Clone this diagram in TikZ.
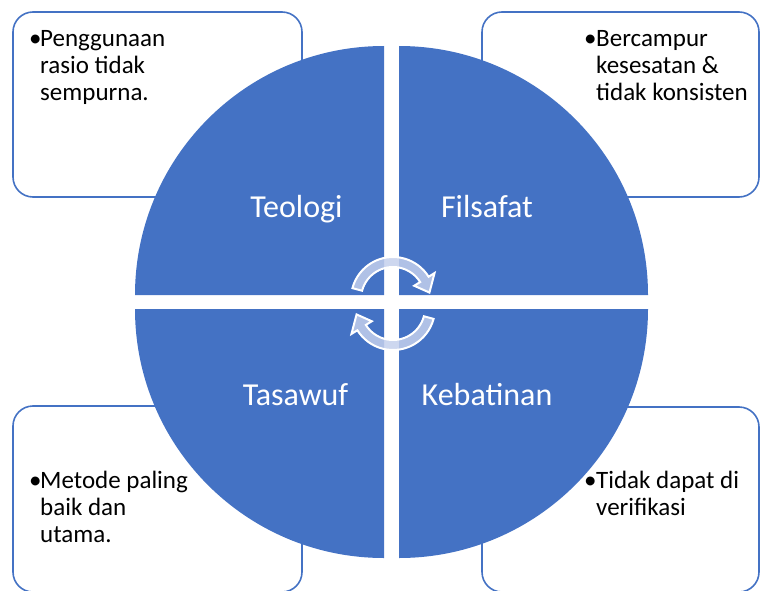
\documentclass[tikz,border=0pt]{standalone}
\usepackage{fontspec}
\setmainfont{Carlito}
\definecolor{accent}{RGB}{68,114,196}
\definecolor{arrowfill}{RGB}{196,208,236}
\begin{document}
\begin{tikzpicture}[x=1pt,y=-1pt,
  infobox/.style={draw=accent,line width=1.6pt,fill=white,rounded corners=20pt},
  quad/.style={fill=accent,draw=none},
  quadlabel/.style={text=white,font=\fontsize{32}{38}\selectfont,anchor=base,inner sep=0pt},
  bullet/.style={font=\fontsize{25}{27}\selectfont,anchor=base west,inner sep=0pt},
  boxtext/.style={font=\fontsize{25}{27}\selectfont,anchor=base west,inner sep=0pt},
  cycarrow/.style={fill=arrowfill,fill opacity=0.85,draw=white,line width=2pt,line join=miter}]
\useasboundingbox (0,0) rectangle (760,591);
% corner boxes
\draw[infobox] (13,12) rectangle (302,197);
\draw[infobox] (482,12) rectangle (759,197);
\draw[infobox] (13,406) rectangle (302,592);
\draw[infobox] (482,407) rectangle (759,592);
% quadrants
\coordinate (ctl) at (384,295);
\coordinate (ctr) at (399,295);
\coordinate (cbl) at (384,309);
\coordinate (cbr) at (399,309);
\fill[quad] (ctl) -- ++(-249,0) arc[start angle=180,end angle=270,radius=249] -- cycle;
\fill[quad] (ctr) -- ++(0,-249) arc[start angle=270,end angle=360,radius=249] -- cycle;
\fill[quad] (cbl) -- ++(0,249) arc[start angle=90,end angle=180,radius=249] -- cycle;
\fill[quad] (cbr) -- ++(249,0) arc[start angle=0,end angle=90,radius=249] -- cycle;
% quadrant labels
\node[quadlabel] (teologi) at (296.5,217) {Teologi};
\node[quadlabel] (filsafat) at (487,217) {Filsafat};
\node[quadlabel] (tasawuf) at (295.5,405) {Tasawuf};
\node[quadlabel] (kebatinan) at (487,405) {Kebatinan};
% box texts
\node[bullet] (b1) at (29,47) {•};
\node[boxtext] (t1) at (40,47) {\parbox[t]{200pt}{\baselineskip=27pt Penggunaan\\rasio tidak\\sempurna.}};
\node[bullet] (b2) at (584,47) {•};
\node[boxtext] (t2) at (596,47) {\parbox[t]{200pt}{\baselineskip=27pt Bercampur\\kesesatan \&\\tidak konsisten}};
\node[bullet] (b3) at (29,488) {•};
\node[boxtext] (t3) at (40,488) {\parbox[t]{200pt}{\baselineskip=27pt Metode paling\\baik dan\\utama.}};
\node[bullet] (b4) at (584,488) {•};
\node[boxtext] (t4) at (596,488) {\parbox[t]{200pt}{\baselineskip=27pt Tidak dapat di\\verifikasi}};
% circular arrows
\coordinate (up) at (393,299);
\coordinate (lo) at (393,308);
\draw[cycarrow] ([shift={(195:42)}]up) arc[start angle=195,end angle=328,radius=42]
  -- ([shift={(328:49)}]up) -- ([shift={(350:37)}]up) -- ([shift={(328:25)}]up)
  -- ([shift={(328:32)}]up) arc[start angle=328,end angle=195,radius=32] -- cycle;
\draw[cycarrow] ([shift={(15:42)}]lo) arc[start angle=15,end angle=148,radius=42]
  -- ([shift={(148:49)}]lo) -- ([shift={(170:37)}]lo) -- ([shift={(148:25)}]lo)
  -- ([shift={(148:32)}]lo) arc[start angle=148,end angle=15,radius=32] -- cycle;
\end{tikzpicture}
\end{document}
